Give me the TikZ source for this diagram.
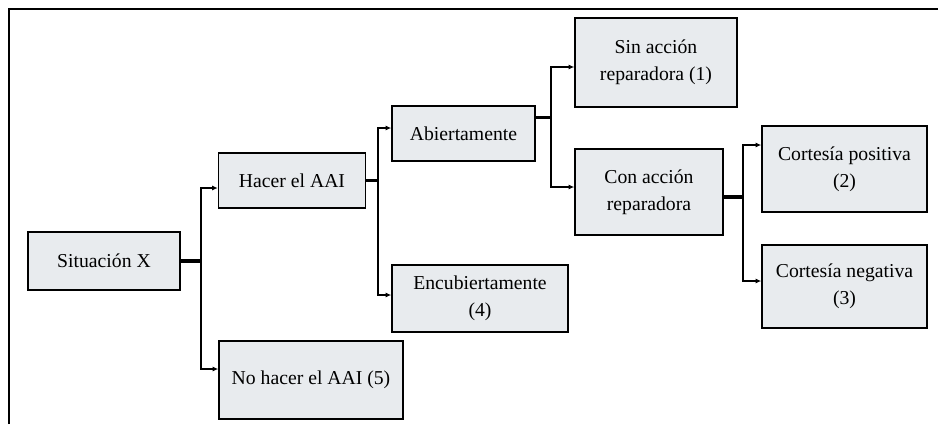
\documentclass[tikz,border=0pt]{standalone}
\usepackage{fontspec}
\setmainfont{Liberation Serif}
\usetikzlibrary{arrows.meta}
\usetikzlibrary{calc}
\definecolor{boxfill}{RGB}{232,235,238}

\begin{document}
\begin{tikzpicture}[x=0.025cm,y=-0.025cm,
        box/.style={draw=black,line width=0.9pt,fill=boxfill,align=center,inner sep=0pt,
            font=\fontsize{14}{19}\selectfont},
        trunk/.style={line width=2.3pt},
        stem/.style={line width=1.4pt,-{Latex[length=4pt,width=3.5pt]}}]
        \useasboundingbox (0,0) rectangle (938,424);
        % frame, cut at right and bottom
        \draw[line width=0.8pt] (9,424) -- (9,9) -- (938,9);
        % boxes
        \node[box,minimum width=3.8cm,minimum height=1.45cm] (sit) at (104,261) {Situación X};
        \node[box,minimum width=3.675cm,minimum height=1.375cm] (hacer) at (292,180.5) {Hacer el AAI};
        \node[box,minimum width=4.6cm,minimum height=1.95cm] (nohacer) at (311,380) {No hacer el AAI (5)};
        \node[box,minimum width=3.575cm,minimum height=1.375cm] (abierta) at (463.5,133.5) {Abiertamente};
        \node[box,minimum width=4.4cm,minimum height=1.675cm] (encub) at (480,298.5) {Encubiertamente\\(4)};
        \node[box,minimum width=4.05cm,minimum height=2.225cm] (sin) at (656,62.5) {Sin acción\\reparadora (1)};
        \node[box,minimum width=3.7cm,minimum height=2.15cm] (con) at (649,192) {Con acción\\reparadora};
        \node[box,minimum width=4.125cm,minimum height=2.15cm] (cpos) at (844.5,169) {Cortesía positiva\\(2)};
        \node[box,minimum width=4.125cm,minimum height=2.075cm] (cneg) at (844.5,286.5) {Cortesía negativa\\(3)};
        % junctions
        \coordinate (ja) at (201,261);
        \coordinate (jb) at (378,180.5);
        \coordinate (jc) at (551,117.5);
        \coordinate (jd) at (743,197);
        % connectors
        \draw[trunk] (sit.east) -- (ja);
        \draw[stem] (ja) |- ($(hacer.west)+(0,7.5)$);
        \draw[stem] (ja) |- ($(nohacer.west)+(0,-11)$);
        \draw[trunk] (hacer.east) -- (jb);
        \draw[stem] (jb) |- ($(abierta.west)+(0,-5.5)$);
        \draw[stem] (jb) |- ($(encub.west)+(0,-3.5)$);
        \draw[trunk] ($(abierta.east)+(0,-16)$) -- (jc);
        \draw[stem] (jc) |- ($(sin.west)+(0,4.5)$);
        \draw[stem] (jc) |- ($(con.west)+(0,-5)$);
        \draw[trunk] ($(con.east)+(0,5)$) -- (jd);
        \draw[stem] (jd) |- ($(cpos.west)+(0,-24)$);
        \draw[stem] (jd) |- ($(cneg.west)+(0,-5.5)$);
    \end{tikzpicture}
\end{document}
